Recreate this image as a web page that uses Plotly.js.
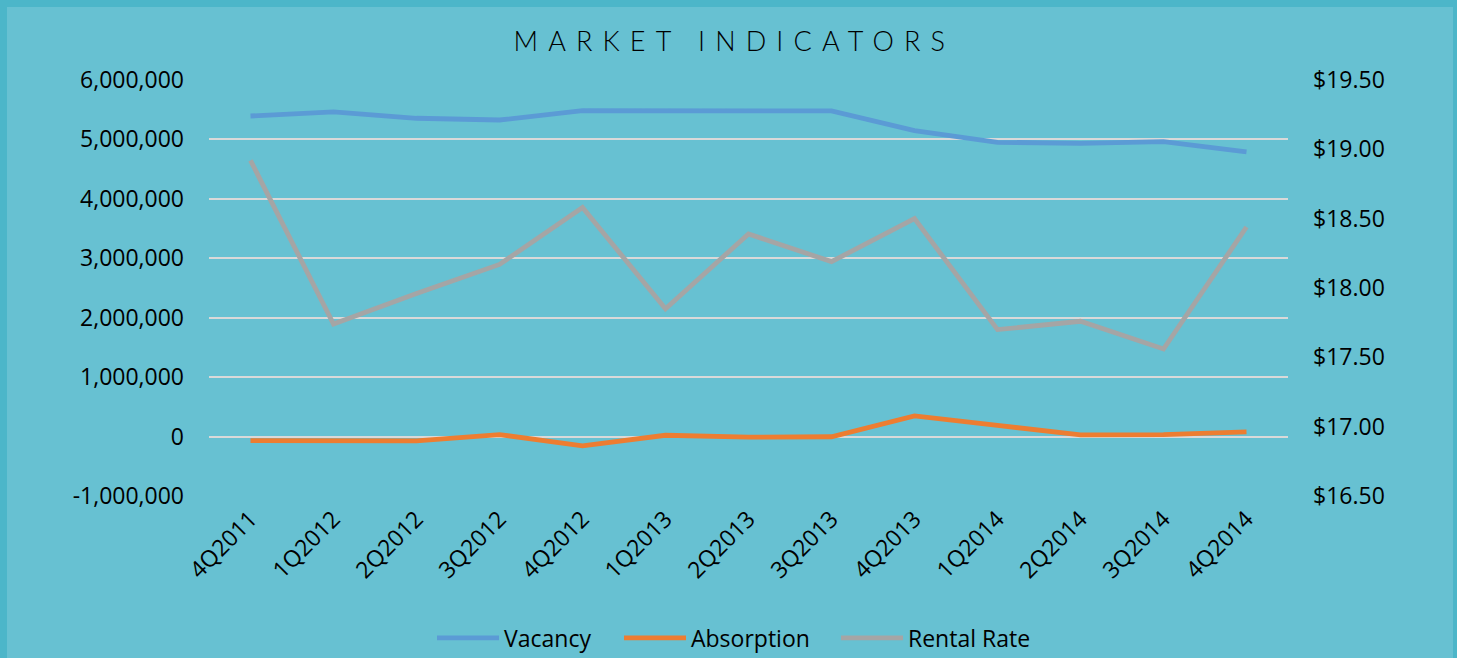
<!DOCTYPE html>
<html>
<head>
<meta charset="utf-8">
<script src="https://cdn.plot.ly/plotly-3.0.1.min.js"></script>
<style>
  html, body { margin: 0; padding: 0; background: #4cb6c9; width: 1457px; height: 658px; overflow: hidden; }
  #chart { position: absolute; left: 7px; top: 7px; width: 1446px; height: 651px; }
  #chart .gtitle { letter-spacing: 0.375em; }
</style>
</head>
<body>
<div id="chart"></div>
<script>
const categories = ["4Q2011","1Q2012","2Q2012","3Q2012","4Q2012","1Q2013","2Q2013","3Q2013","4Q2013","1Q2014","2Q2014","3Q2014","4Q2014"];
const vacancy = [5394000, 5462000, 5356000, 5327000, 5484000, 5479000, 5479000, 5479000, 5147000, 4952000, 4935000, 4962000, 4789000];
const absorption = [-67000, -78000, -72000, 34000, -156000, 22000, -10000, -3000, 348000, 188000, 28000, 34000, 79000];
const rentalRate = [18.92, 17.74, 17.96, 18.17, 18.58, 17.85, 18.39, 18.19, 18.50, 17.70, 17.76, 17.56, 18.44];
const leftTickVals = [-1000000, 0, 1000000, 2000000, 3000000, 4000000, 5000000, 6000000];
const leftTickText = ["-1,000,000", "0", "1,000,000", "2,000,000", "3,000,000", "4,000,000", "5,000,000", "6,000,000"];
const rightTickVals = [16.5, 17, 17.5, 18, 18.5, 19, 19.5];
const rightTickText = ["$16.50", "$17.00", "$17.50", "$18.00", "$18.50", "$19.00", "$19.50"];
const seriesNames = ["Vacancy", "Absorption", "Rental Rate"];

const FONT = "'Open Sans', 'Noto Sans', sans-serif";
const FS = 23;
const W = 1446, H = 651;

const traces = [
  {x: categories, y: vacancy, name: seriesNames[0], type: "scatter", mode: "lines",
   line: {color: "#5b9bd5", width: 4.8}, yaxis: "y", legend: "legend"},
  {x: categories, y: absorption, name: seriesNames[1], type: "scatter", mode: "lines",
   line: {color: "#ed7d31", width: 4.8}, yaxis: "y", legend: "legend2"},
  {x: categories, y: rentalRate, name: seriesNames[2], type: "scatter", mode: "lines",
   line: {color: "#a5a5a5", width: 4.8}, yaxis: "y2", legend: "legend3"}
];

function legendAt(pageX) {
  return {
    orientation: "h",
    xref: "container", x: (pageX - 7) / W, xanchor: "left",
    yref: "container", y: 1 - 631 / H, yanchor: "middle",
    bgcolor: "rgba(0,0,0,0)", borderwidth: 0,
    font: {family: FONT, size: FS, color: "#000"},
    itemwidth: 62
  };
}

const layout = {
  width: W, height: H,
  paper_bgcolor: "#67c1d2",
  plot_bgcolor: "rgba(0,0,0,0)",
  margin: {l: 202, r: 165, t: 73, b: 162},
  font: {family: FONT, size: FS, color: "#000"},
  title: {
    text: "MARKET INDICATORS",
    font: {family: "Lato, 'DejaVu Sans', sans-serif", size: 27, color: "#000", weight: 300},
    x: 0.503, xref: "container", xanchor: "center",
    y: 1 - 35 / H, yref: "container", yanchor: "middle"
  },
  xaxis: {
    type: "category",
    range: [-0.5, 12.5],
    tickangle: -45,
    showgrid: false, showline: false, zeroline: false,
    ticks: "", ticklabelstandoff: 4,
    tickfont: {family: FONT, size: FS, color: "#000"}
  },
  yaxis: {
    range: [-1000000, 6000000],
    tickvals: leftTickVals, ticktext: leftTickText,
    showgrid: true, gridcolor: "#d9d9d9", gridwidth: 2,
    zeroline: true, zerolinecolor: "#d9d9d9", zerolinewidth: 2,
    showline: false, ticks: "", ticklabelstandoff: 24,
    tickfont: {family: FONT, size: FS, color: "#000"}
  },
  yaxis2: {
    range: [16.5, 19.5],
    overlaying: "y", side: "right",
    tickvals: rightTickVals, ticktext: rightTickText,
    showgrid: false, zeroline: false, showline: false,
    ticks: "", ticklabelstandoff: 24,
    tickfont: {family: FONT, size: FS, color: "#000"}
  },
  showlegend: true,
  legend: legendAt(432),
  legend2: legendAt(619),
  legend3: legendAt(836)
};

Plotly.newPlot("chart", traces, layout, {displayModeBar: false, staticPlot: true});
</script>
</body>
</html>
